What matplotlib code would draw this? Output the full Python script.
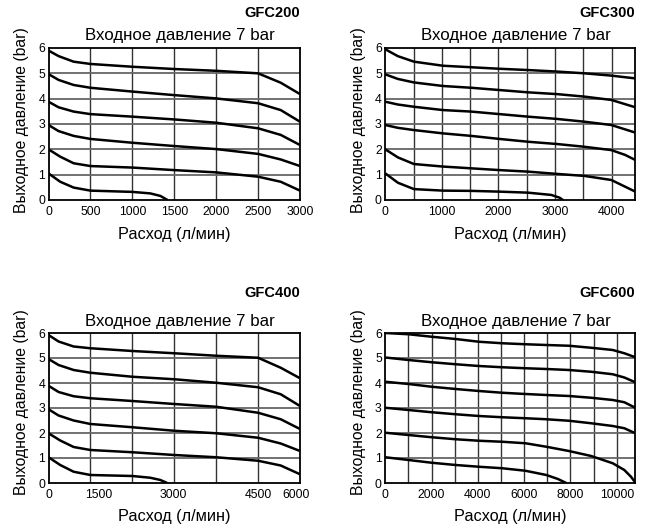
import matplotlib
matplotlib.use("Agg")
import matplotlib.pyplot as plt

plt.rcParams['font.family'] = ['Liberation Sans', 'DejaVu Sans']

# ---------------- data ----------------
titles = ["GFC200", "GFC300", "GFC400", "GFC600"]
subtitle = "Входное давление 7 bar"
xlabel = "Расход (л/мин)"
ylabel = "Выходное давление (bar)"

# GFC200
g200_x = [[0, 120, 300, 500, 1000, 1500, 2000, 2500, 2770, 3000],
          [0, 120, 300, 500, 1000, 1500, 2000, 2500, 2770, 3000],
          [0, 120, 300, 500, 1000, 1500, 2000, 2500, 2770, 3000],
          [0, 120, 300, 500, 1000, 1500, 2000, 2500, 2770, 3000],
          [0, 140, 300, 500, 1000, 1500, 2000, 2500, 2770, 3000],
          [0, 140, 300, 500, 1000, 1215, 1335, 1420]]
g200_y = [[5.9, 5.68, 5.46, 5.37, 5.26, 5.17, 5.1, 5.0, 4.63, 4.18],
          [4.97, 4.74, 4.54, 4.43, 4.28, 4.14, 4.01, 3.82, 3.55, 3.09],
          [3.88, 3.66, 3.49, 3.39, 3.29, 3.18, 3.05, 2.83, 2.57, 2.17],
          [2.96, 2.72, 2.53, 2.41, 2.26, 2.13, 2.01, 1.82, 1.6, 1.34],
          [2.0, 1.71, 1.45, 1.34, 1.28, 1.18, 1.09, 0.92, 0.72, 0.37],
          [1.05, 0.72, 0.49, 0.37, 0.32, 0.26, 0.16, 0.0]]

# GFC300
g300_x = [[0, 220, 507, 1020, 1520, 2021, 2522, 3035, 3524, 3996, 4420],
          [0, 220, 507, 1020, 1520, 2021, 2522, 3035, 3524, 3996, 4420],
          [0, 220, 507, 1020, 1520, 2021, 2522, 3035, 3524, 3996, 4420],
          [0, 220, 507, 1020, 1520, 2021, 2522, 3035, 3524, 3996, 4240, 4420],
          [0, 224, 507, 1020, 1520, 2021, 2522, 3035, 3524, 3996, 4420],
          [0, 224, 507, 1020, 1520, 2021, 2522, 2934, 3082, 3141]]
g300_y = [[5.95, 5.68, 5.46, 5.3, 5.24, 5.18, 5.13, 5.07, 5.0, 4.91, 4.8],
          [4.96, 4.78, 4.64, 4.5, 4.43, 4.34, 4.25, 4.18, 4.08, 3.95, 3.66],
          [3.88, 3.77, 3.68, 3.55, 3.49, 3.39, 3.29, 3.2, 3.09, 2.96, 2.66],
          [2.96, 2.85, 2.76, 2.63, 2.53, 2.41, 2.3, 2.21, 2.1, 1.97, 1.78, 1.58],
          [2.0, 1.68, 1.42, 1.32, 1.25, 1.18, 1.12, 1.03, 0.95, 0.79, 0.33],
          [1.05, 0.68, 0.43, 0.37, 0.36, 0.33, 0.29, 0.2, 0.09, 0.0]]

# GFC400
g400_x = [[0, 240, 600, 1000, 2000, 3000, 4000, 5000, 5540, 6000],
          [0, 240, 600, 1000, 2000, 3000, 4000, 5000, 5540, 6000],
          [0, 240, 600, 1000, 2000, 3000, 4000, 5000, 5540, 6000],
          [0, 240, 600, 1000, 2000, 3000, 4000, 5000, 5540, 6000],
          [0, 280, 600, 1000, 2000, 3000, 4000, 5000, 5540, 6000],
          [0, 280, 600, 1000, 2000, 2430, 2670, 2830]]
g400_y = [[5.92, 5.66, 5.46, 5.39, 5.28, 5.19, 5.09, 5.01, 4.61, 4.19],
          [4.96, 4.72, 4.52, 4.41, 4.25, 4.15, 4.01, 3.83, 3.55, 3.08],
          [3.89, 3.64, 3.47, 3.39, 3.28, 3.16, 3.05, 2.81, 2.55, 2.16],
          [2.95, 2.7, 2.5, 2.36, 2.23, 2.09, 1.99, 1.81, 1.58, 1.28],
          [1.99, 1.7, 1.44, 1.32, 1.23, 1.12, 1.03, 0.89, 0.7, 0.35],
          [1.03, 0.72, 0.45, 0.32, 0.28, 0.21, 0.12, 0.0]]

# GFC600
g600_x = [[0, 1004, 2008, 3041, 4045, 5049, 6053, 6956, 7931, 8892, 9825, 10326, 10800],
          [0, 1004, 2008, 3041, 4045, 5049, 6053, 6956, 7931, 8892, 9825, 10326, 10800],
          [0, 1004, 2008, 3041, 4045, 5049, 6053, 6956, 7931, 8892, 9825, 10326, 10800],
          [0, 1004, 2008, 3041, 4045, 5049, 6053, 6956, 7931, 8892, 9825, 10326, 10800],
          [0, 1004, 2008, 3041, 4045, 5049, 6053, 6956, 7931, 8892, 9825, 10326, 10614, 10800],
          [0, 1004, 2008, 3041, 4045, 5049, 6053, 6956, 7458, 7817]]
g600_y = [[6.0, 5.95, 5.85, 5.76, 5.65, 5.59, 5.55, 5.52, 5.49, 5.41, 5.32, 5.19, 5.03],
          [5.02, 4.92, 4.83, 4.75, 4.68, 4.63, 4.59, 4.56, 4.52, 4.45, 4.35, 4.22, 4.03],
          [4.05, 3.96, 3.85, 3.76, 3.68, 3.61, 3.56, 3.52, 3.48, 3.41, 3.32, 3.23, 3.01],
          [3.01, 2.92, 2.83, 2.75, 2.68, 2.63, 2.59, 2.55, 2.49, 2.39, 2.28, 2.19, 1.99],
          [2.01, 1.92, 1.83, 1.75, 1.69, 1.65, 1.59, 1.45, 1.28, 1.08, 0.79, 0.52, 0.25, 0.02],
          [1.03, 0.92, 0.81, 0.72, 0.65, 0.59, 0.49, 0.32, 0.16, 0.0]]

xmax = [3000, 4420, 6000, 10800]
grid_x = [[500, 1000, 1500, 2000, 2500],
          [500, 1000, 1500, 2000, 2500, 3000, 3500, 4000],
          [1000, 2000, 3000, 4000, 5000],
          [1000, 2000, 3000, 4000, 5000, 6000, 7000, 8000, 9000, 10000]]
tick_pos = [[0, 500, 1000, 1500, 2000, 2500, 3000],
            [0, 1000, 2000, 3000, 4000],
            [0, 1200, 2970, 5000, 5900],
            [0, 2000, 4000, 6000, 8000, 10000]]
tick_lab = [["0", "500", "1000", "1500", "2000", "2500", "3000"],
            ["0", "1000", "2000", "3000", "4000"],
            ["0", "1500", "3000", "4500", "6000"],
            ["0", "2000", "4000", "6000", "8000", "10000"]]
y_ticks = [0, 1, 2, 3, 4, 5, 6]
y_grid = [1, 2, 3, 4, 5]
all_x = [g200_x, g300_x, g400_x, g600_x]
all_y = [g200_y, g300_y, g400_y, g600_y]

# ---------------- layout ----------------
W, H = 653, 531
fig = plt.figure(figsize=(W / 100, H / 100), dpi=100)
# (left, right, top, bottom) in pixels
boxes = [(48.5, 300, 48, 200), (385.3, 635.3, 48, 200),
         (48.5, 300, 333, 483), (385.3, 635.3, 333, 483)]
title_y = [13, 13, 293, 293]
sub_y = [35.5, 35.5, 321.5, 321.5]
xl_y = [235, 235, 516.5, 516.5]
yl_dy = [-3.5, -3.5, -6, -6]

for i in range(4):
    l, r, t, b = boxes[i]
    ax = fig.add_axes([l / W, 1 - b / H, (r - l) / W, (b - t) / H])
    for xs, ys in zip(all_x[i], all_y[i]):
        ax.plot(xs, ys, color='black', lw=1.8, solid_capstyle='butt',
                solid_joinstyle='round', zorder=3)
    ax.set_xlim(0, xmax[i])
    ax.set_ylim(0, 6)
    ax.xaxis.remove_overlapping_locs = False
    ax.yaxis.remove_overlapping_locs = False
    ax.set_xticks(tick_pos[i])
    ax.set_xticklabels(tick_lab[i])
    ax.set_xticks(grid_x[i], minor=True)
    ax.set_yticks(y_ticks)
    ax.set_yticks(y_grid, minor=True)
    ax.tick_params(which='both', length=0)
    ax.tick_params(axis='x', which='major', pad=4.0, labelsize=8.8)
    ax.tick_params(axis='y', which='major', pad=2.5, labelsize=8.8)
    ax.xaxis.grid(True, which='minor', color='#333333', lw=1.0)
    ax.xaxis.grid(False, which='major')
    ax.yaxis.grid(True, which='minor', color='#666666', lw=1.3)
    ax.yaxis.grid(False, which='major')
    for s in ax.spines.values():
        s.set_color('black')
        s.set_linewidth(1.3)

    fig.text(r / W, 1 - title_y[i] / H, titles[i], ha='right', va='center',
             fontsize=10.5, fontweight='bold')
    fig.text(((l + r) / 2 + 6) / W, 1 - sub_y[i] / H, subtitle, ha='center',
             va='center', fontsize=12.2)
    fig.text(((l + r) / 2) / W, 1 - xl_y[i] / H, xlabel, ha='center',
             va='center', fontsize=11.7)
    fig.text((l - 26.5) / W, 1 - ((t + b) / 2 + yl_dy[i]) / H, ylabel,
             ha='center', va='center', rotation=90, fontsize=11.3)

fig.savefig("out.png", dpi=100)
